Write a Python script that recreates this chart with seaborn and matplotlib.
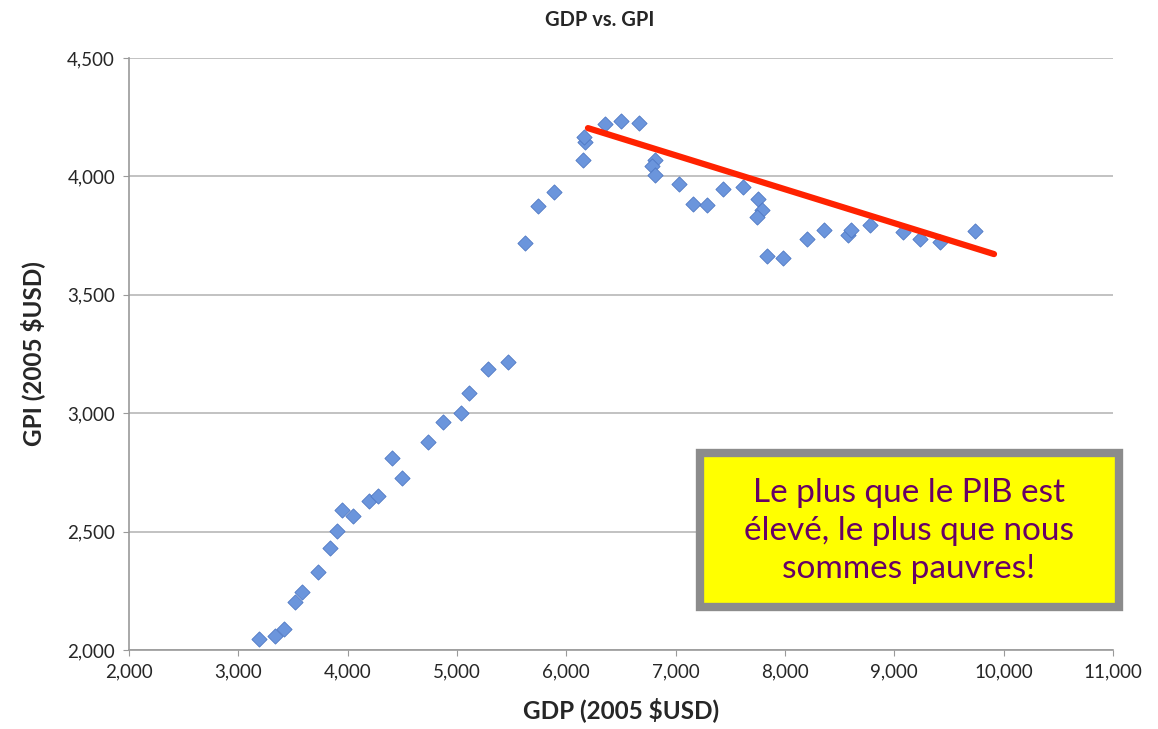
import pandas as pd
import matplotlib.pyplot as plt
import seaborn as sns
from matplotlib.patches import FancyBboxPatch
from matplotlib.ticker import FuncFormatter

sns.set_style("white")
plt.rcParams['font.family'] = ['Lato', 'DejaVu Sans']

# GDP / GPI per-capita values (2005 $USD)
gdp = [3189, 3335, 3418, 3518, 3582, 3729, 3838, 3903, 3948, 4049,
       4195, 4278, 4406, 4497, 4735, 4872, 5037, 5110, 5284, 5467,
       5622, 5741, 5887, 6153, 6171, 6162, 6354, 6500, 6665, 6811,
       6784, 6811, 7031, 7159, 7287, 7433, 7616, 7753, 7790, 7744,
       7836, 7982, 8201, 8357, 8576, 8604, 8778, 9080, 9235, 9418,
       9738]
gpi = [2046, 2059, 2089, 2203, 2245, 2329, 2431, 2503, 2591, 2566,
       2629, 2650, 2811, 2726, 2878, 2963, 3001, 3085, 3187, 3216,
       3719, 3875, 3934, 4069, 4145, 4166, 4221, 4234, 4226, 4069,
       4044, 4006, 3968, 3883, 3879, 3947, 3955, 3905, 3858, 3829,
       3664, 3655, 3736, 3774, 3753, 3774, 3795, 3765, 3736, 3723,
       3769]

# hand-drawn trend line (start / end)
trend_gdp = [6198, 9912]
trend_gpi = [4204, 3672]

x_ticks = list(range(2000, 11001, 1000))
y_ticks = list(range(2000, 4501, 500))

df = pd.DataFrame({"GDP": gdp, "GPI": gpi})
trend = pd.DataFrame({"GDP": trend_gdp, "GPI": trend_gpi})

fig = plt.figure(figsize=(11.58, 7.29), dpi=100)
ax = fig.add_axes([0.1114, 0.1084, 0.8497, 0.812])

sns.scatterplot(data=df, x="GDP", y="GPI", marker="D", s=60,
                color="#6b95dc", edgecolor="#4f78c4", linewidth=0.6, ax=ax, zorder=3)
sns.lineplot(data=trend, x="GDP", y="GPI", color="#ff2200", linewidth=4.5,
             ax=ax, zorder=4)

ax.set_xlim(2000, 11000)
ax.set_ylim(2000, 4500)
ax.set_xticks(x_ticks)
ax.set_yticks(y_ticks)
fmt = FuncFormatter(lambda v, p: f"{int(v):,}")
ax.xaxis.set_major_formatter(fmt)
ax.yaxis.set_major_formatter(fmt)
ax.tick_params(axis="both", labelsize=13.5, length=4, color="#9a9a9a",
               direction="out", bottom=True, left=True, pad=6)
ax.grid(axis="y", color="#b8b8b8", linewidth=1.2)
ax.grid(axis="x", visible=False)
for side in ["top", "right"]:
    ax.spines[side].set_visible(False)
for side in ["left", "bottom"]:
    ax.spines[side].set_color("#9a9a9a")
    ax.spines[side].set_linewidth(1.2)

ax.set_xlabel("GDP (2005 $USD)", fontsize=17.5, fontweight="bold", labelpad=12)
ax.set_ylabel("GPI (2005 $USD)", fontsize=17.5, fontweight="bold", labelpad=16)
fig.text(0.518, 0.972, "GDP vs. GPI", ha="center", va="center",
         fontsize=14.5, fontweight="bold")

# callout box
box = FancyBboxPatch((700 / 1158, 1 - 607 / 729), 419 / 1158, 154 / 729,
                     boxstyle="square,pad=0", transform=fig.transFigure,
                     facecolor="#ffff00", edgecolor="#8c8c8c", linewidth=6,
                     zorder=10)
fig.patches.append(box)
fig.text(909 / 1158, 1 - 531 / 729,
         "Le plus que le PIB est\nélevé, le plus que nous\nsommes pauvres!",
         ha="center", va="center", fontsize=24, color="#660066",
         linespacing=1.32, zorder=11)

plt.savefig("out.png", dpi=100)
